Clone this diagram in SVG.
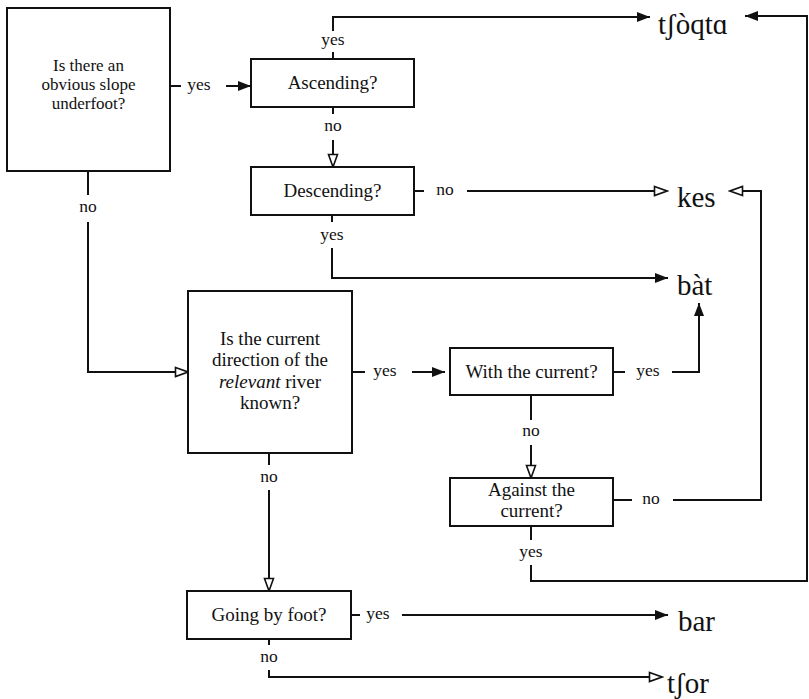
<svg xmlns="http://www.w3.org/2000/svg" width="809" height="699" viewBox="0 0 809 699">
<style>
text{font-family:"Liberation Serif", "Times New Roman", "DejaVu Serif", serif;fill:#111}
.box{fill:#fff;stroke:#111;stroke-width:2}
.t{font-size:19px;text-anchor:middle}
.l{font-size:17.5px;text-anchor:middle}
.r{font-size:29px}
.c{fill:none;stroke:#111;stroke-width:2}
.f{marker-end:url(#fa)}
.o{marker-end:url(#oa)}
</style>
<defs>
<marker id="fa" markerUnits="userSpaceOnUse" markerWidth="14" markerHeight="12" refX="13" refY="6" orient="auto">
<path d="M0,1 L13,6 L0,11 z" fill="#111"/>
</marker>
<marker id="oa" markerUnits="userSpaceOnUse" markerWidth="16" markerHeight="12" refX="14" refY="6" orient="auto">
<path d="M1.5,1.5 L14,6 L1.5,10.5 z" fill="#fff" stroke="#111" stroke-width="1.6"/>
</marker>
</defs>
<rect width="809" height="699" fill="#fff"/>

<g id="connectors">
<line class="c" x1="170" y1="86" x2="181" y2="86"/>
<text class="l" x="199" y="90">yes</text>
<line class="c f" x1="226" y1="86" x2="251" y2="86"/>

<line class="c" x1="333" y1="59" x2="333" y2="52"/>
<text class="l" x="333" y="45">yes</text>
<polyline class="c f" points="333,31 333,17 650,17"/>

<line class="c" x1="333" y1="107" x2="333" y2="114"/>
<text class="l" x="333" y="131">no</text>
<line class="c o" x1="333" y1="140" x2="333" y2="167"/>

<line class="c" x1="414" y1="191" x2="424" y2="191"/>
<text class="l" x="445" y="195">no</text>
<line class="c o" x1="467" y1="191" x2="667" y2="191"/>

<line class="c" x1="332" y1="215" x2="332" y2="222"/>
<text class="l" x="332" y="240">yes</text>
<polyline class="c f" points="332,248 332,278 668,278"/>

<line class="c" x1="88" y1="171" x2="88" y2="195"/>
<text class="l" x="88" y="212">no</text>
<polyline class="c o" points="88,222 88,372 188,372"/>

<line class="c" x1="352" y1="372" x2="365" y2="372"/>
<text class="l" x="385" y="376">yes</text>
<line class="c f" x1="412" y1="372" x2="445" y2="372"/>

<line class="c" x1="613" y1="372" x2="625" y2="372"/>
<text class="l" x="648" y="376">yes</text>
<polyline class="c f" points="672,372 699,372 699,303"/>

<line class="c" x1="531" y1="395" x2="531" y2="420"/>
<text class="l" x="531" y="436">no</text>
<line class="c o" x1="531" y1="445" x2="531" y2="478"/>

<line class="c" x1="613" y1="500" x2="632" y2="500"/>
<text class="l" x="651" y="504">no</text>
<polyline class="c o" points="673,500 761,500 761,191 730,191"/>

<line class="c" x1="531" y1="526" x2="531" y2="540"/>
<text class="l" x="531" y="557">yes</text>
<polyline class="c f" points="531,565 531,581 807,581 807,16 745,16"/>

<line class="c" x1="269" y1="453" x2="269" y2="465"/>
<text class="l" x="269" y="482">no</text>
<line class="c o" x1="269" y1="490" x2="269" y2="591"/>

<line class="c" x1="351" y1="615" x2="360" y2="615"/>
<text class="l" x="378" y="619">yes</text>
<line class="c f" x1="402" y1="615" x2="668" y2="615"/>

<line class="c" x1="269" y1="639" x2="269" y2="645"/>
<text class="l" x="269" y="662">no</text>
<polyline class="c o" points="269,670 269,677 662,677"/>
</g>

<g id="slope">
<rect class="box" x="7" y="8" width="163" height="163"/>
<text class="t" style="font-size:17px"><tspan x="88.5" y="71">Is there an</tspan><tspan x="88.5" y="90">obvious slope</tspan><tspan x="88.5" y="109">underfoot?</tspan></text>
</g>
<g id="ascending">
<rect class="box" x="251" y="59" width="163" height="48"/>
<text class="t" x="332.5" y="89">Ascending?</text>
</g>
<g id="descending">
<rect class="box" x="251" y="167" width="163" height="48"/>
<text class="t" x="332.5" y="197">Descending?</text>
</g>
<g id="current">
<rect class="box" x="188" y="291" width="164" height="162"/>
<text class="t"><tspan x="270" y="345">Is the current</tspan><tspan x="270" y="366">direction of the</tspan><tspan x="270" y="388"><tspan font-style="italic">relevant</tspan> river</tspan><tspan x="270" y="409">known?</tspan></text>
</g>
<g id="with">
<rect class="box" x="450" y="348" width="163" height="47"/>
<text class="t" x="531.5" y="378">With the current?</text>
</g>
<g id="against">
<rect class="box" x="450" y="478" width="163" height="48"/>
<text class="t"><tspan x="531.5" y="496">Against the</tspan><tspan x="531.5" y="517">current?</tspan></text>
</g>
<g id="foot">
<rect class="box" x="187" y="591" width="164" height="48"/>
<text class="t" x="269" y="621">Going by foot?</text>
</g>
<g id="r-tsoqta"><text class="r" x="658" y="34">tʃòqtɑ</text></g>
<g id="r-kes"><text class="r" x="677" y="207">kes</text></g>
<g id="r-bat"><text class="r" x="677" y="295">bàt</text></g>
<g id="r-bar"><text class="r" x="678" y="631">bar</text></g>
<g id="r-tsor"><text class="r" x="667" y="693">tʃor</text></g>
</svg>
